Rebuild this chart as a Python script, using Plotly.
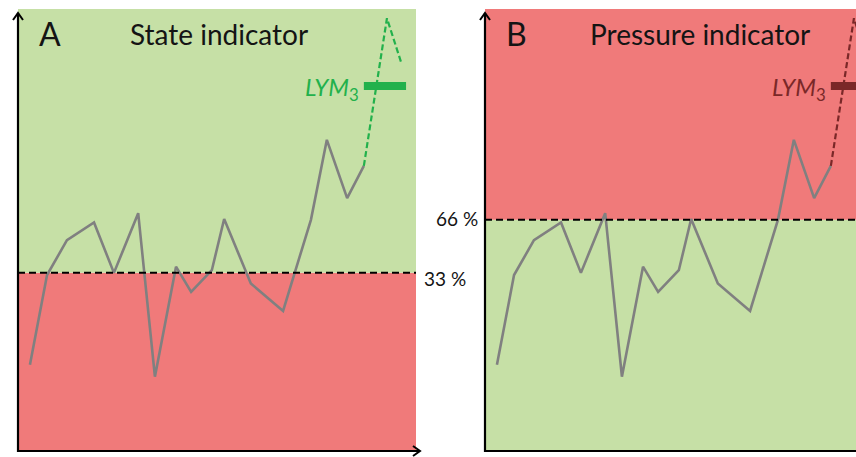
import plotly.graph_objects as go

# ---- data (arbitrary indicator units, 0-100) ----
time_obs = [3.0, 7.3, 12.3, 19.1, 24.1, 30.2, 34.4, 39.7, 43.5, 48.7, 51.8,
            58.5, 66.6, 73.6, 77.6, 82.7, 86.9]
indicator = [19.5, 39.8, 47.7, 51.7, 40.3, 53.8, 16.8, 41.7, 36.0, 40.9, 52.5,
             37.9, 31.7, 52.3, 70.4, 57.2, 64.5]
time_proj = [86.9, 92.7, 96.2]
projection = [64.5, 97.9, 88.1]
lym_x = [86.9, 97.5]
lym_y = [82.6, 82.6]
q33 = 40.3
q66 = 52.3
panel_letters = ["A", "B"]
panel_titles = ["State indicator", "Pressure indicator"]
threshold_labels = ["33 %", "66 %"]

W, H = 856, 457
GREEN_BG = "rgb(198,224,166)"
RED_BG = "rgb(240,122,122)"
GRAY = "rgb(128,128,128)"
GREEN = "rgb(34,177,76)"
DARKRED = "rgb(122,40,40)"
TXT = "rgb(20,20,20)"
FONT = "Lato"

def px(x):
    return x / W

def py(y):
    return 1 - y / H

top_px, bot_px = 9, 451
ydom = [py(bot_px), py(top_px)]
scale = 3.98  # px per x unit

axA = 18
axB = 485
fig = go.Figure()

fig.update_layout(
    width=W, height=H, margin=dict(l=0, r=0, t=0, b=0),
    paper_bgcolor="white", plot_bgcolor="rgba(0,0,0,0)", showlegend=False,
    xaxis=dict(domain=[px(axA), px(axA + 100 * scale)], range=[0, 100], visible=False),
    yaxis=dict(domain=ydom, range=[0, 100], visible=False),
    xaxis2=dict(domain=[px(axB), 1.0], range=[0, (W - axB) / scale], visible=False),
    yaxis2=dict(domain=ydom, range=[0, 100], visible=False, anchor="x2"),
)

shapes = []
# backgrounds
for xr, yr, lo_col, hi_col, thr in [("x", "y", RED_BG, GREEN_BG, q33),
                                    ("x2", "y2", GREEN_BG, RED_BG, q66)]:
    shapes.append(dict(type="rect", xref=xr, yref=yr, x0=0, x1=110, y0=0, y1=thr,
                       fillcolor=lo_col, line=dict(width=0), layer="below"))
    shapes.append(dict(type="rect", xref=xr, yref=yr, x0=0, x1=110, y0=thr, y1=100,
                       fillcolor=hi_col, line=dict(width=0), layer="below"))
    shapes.append(dict(type="line", xref=xr, yref=yr, x0=0, x1=110, y0=thr, y1=thr,
                       line=dict(color="black", width=2, dash="7px,4px")))

# axes with arrows
def axis_lines(x0, x_end, arrow_right=True):
    s = []
    s.append(dict(type="line", xref="paper", yref="paper", x0=px(x0), x1=px(x0),
                  y0=py(bot_px + 1), y1=py(13), line=dict(color="black", width=2.2)))
    s.append(dict(type="path", xref="paper", yref="paper",
                  path=f"M {px(x0-5)} {py(20)} L {px(x0)} {py(13)} L {px(x0+5)} {py(20)}",
                  line=dict(color="black", width=2)))
    s.append(dict(type="line", xref="paper", yref="paper", x0=px(x0 - 1), x1=px(x_end),
                  y0=py(bot_px), y1=py(bot_px), line=dict(color="black", width=2.2)))
    if arrow_right:
        s.append(dict(type="path", xref="paper", yref="paper",
                      path=f"M {px(x_end-7)} {py(bot_px-5)} L {px(x_end)} {py(bot_px)} L {px(x_end-7)} {py(bot_px+5)}",
                      line=dict(color="black", width=2)))
    return s

shapes += axis_lines(axA, 420, True)
shapes += axis_lines(axB, W, False)
fig.update_layout(shapes=shapes)

# traces
for xr, yr, col in [("x", "y", GREEN), ("x2", "y2", DARKRED)]:
    fig.add_trace(go.Scatter(x=time_obs, y=indicator, mode="lines", xaxis=xr, yaxis=yr,
                             line=dict(color=GRAY, width=2.6)))
    fig.add_trace(go.Scatter(x=time_proj, y=projection, mode="lines", xaxis=xr, yaxis=yr,
                             line=dict(color=col, width=2.2, dash="6px,3px")))
    fig.add_trace(go.Scatter(x=lym_x, y=lym_y, mode="lines", xaxis=xr, yaxis=yr,
                             line=dict(color=col, width=8)))

ann = []
title_centers = [219, 700]
for i, (x0, xr, yr, col) in enumerate([(axA, "x", "y", GREEN), (axB, "x2", "y2", DARKRED)]):
    ann.append(dict(text=panel_letters[i], xref="paper", yref="paper", x=px(x0 + 19), y=py(34),
                    xanchor="left", yanchor="middle", showarrow=False,
                    font=dict(family=FONT, size=32, color=TXT)))
    ann.append(dict(text=panel_titles[i], xref="paper", yref="paper", x=px(title_centers[i]), y=py(34),
                    xanchor="center", yanchor="middle", showarrow=False,
                    font=dict(family=FONT, size=28, color=TXT)))
    ann.append(dict(text="<i>LYM</i><sub>3</sub>", xref=xr, yref=yr, x=lym_x[0] - 0.8, y=lym_y[0] - 0.5,
                    xanchor="right", yanchor="middle", showarrow=False,
                    font=dict(family=FONT, size=24, color=col)))

ann.append(dict(text=threshold_labels[0], xref="paper", yref="y", x=px(444.5), y=q33 - 1.3,
                xanchor="center", yanchor="middle", showarrow=False,
                font=dict(family=FONT, size=19, color=TXT)))
ann.append(dict(text=threshold_labels[1], xref="paper", yref="y", x=px(457), y=q66 + 0.3,
                xanchor="center", yanchor="middle", showarrow=False,
                font=dict(family=FONT, size=19, color=TXT)))
fig.update_layout(annotations=ann)

fig.write_html("out.html")
